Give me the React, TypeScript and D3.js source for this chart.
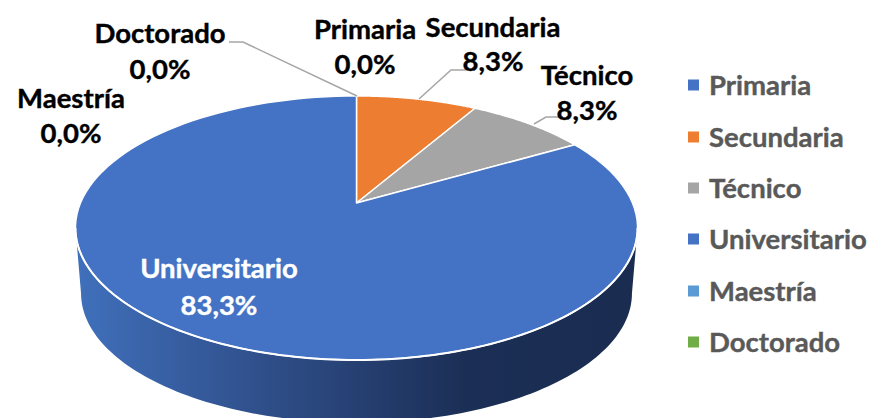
import React from "react";
import * as d3 from "d3";

const categories = ["Primaria", "Secundaria", "Técnico", "Universitario", "Maestría", "Doctorado"];
const values = [0, 8.33, 8.33, 83.34, 0, 0];
const valueLabels = ["0,0%", "8,3%", "8,3%", "83,3%", "0,0%", "0,0%"];
const colors = ["#4472C4", "#ED7D31", "#A5A5A5", "#4472C4", "#5B9BD5", "#70AD47"];
const labelCenters = [
  [365, 28, 63], [493, 26, 60], [587, 74, 109], [219, 267, 304], [71, 97, 132], [160, 32, 68],
];
const leaders = [
  [[229, 42], [243, 42], [357, 96]],
  [[466, 70], [451, 70], [419, 99]],
  [[559, 117], [546, 117], [534, 124]],
];
const legendYs = [84, 136, 187, 238, 290, 341];

const W = 873, H = 418;
const FONT = "Lato, sans-serif";
const apexX = 356.5, apexY = 203, Rx = 276, Ry = 127.3, K = 0.189;
const DEPTH = 66, BOTTOM_SCALE = 0.98;

const project = (theta: number, r = 1, dy = 0, s = 1): [number, number] => {
  const u = r * Math.sin(theta), v = r * Math.cos(theta), w = 1 + K * v;
  return [apexX + (s * Rx * u) / w, apexY + dy - (s * Ry * v) / w];
};
const line = d3.line();
const sweep = (a0: number, a1: number, n: number) => d3.range(n + 1).map(i => a0 + ((a1 - a0) * i) / n);

export default function App() {
  const arcs = d3.pie<number>().sort(null)(values);
  // Theta of the ellipse's left/right extremes under the perspective map
  const tR = Math.acos(-K), tL = 2 * Math.PI - tR;
  const frontTop = sweep(tR, tL, 120).map(t => project(t));
  const frontBottom = sweep(tL, tR, 120).map(t => project(t, 1, DEPTH, BOTTOM_SCALE));
  const wall = line([...frontTop, ...frontBottom]) + "Z";
  const rim = line(frontTop) as string;

  return (
    <svg width={W} height={H} viewBox={`0 0 ${W} ${H}`}
      style={{ position: "absolute", left: 0, top: 0, background: "#fff" }}>
      <defs>
        <linearGradient id="wall" gradientUnits="userSpaceOnUse" x1={76} x2={637} y1={0} y2={0}>
          <stop offset="0" stopColor="#4070BC" />
          <stop offset="0.3" stopColor="#31528F" />
          <stop offset="0.7" stopColor="#1B2E55" />
          <stop offset="1" stopColor="#1A2C50" />
        </linearGradient>
      </defs>
      <path d={wall} fill="url(#wall)" />
      {arcs.filter(a => a.value > 0).map(a => {
        const pts = sweep(a.startAngle, a.endAngle, 120).map(t => project(t));
        return (
          <path key={a.index} d={line([project(0, 0), ...pts]) + "Z"}
            fill={colors[a.index]} stroke="#fff" strokeWidth={1.5} strokeLinejoin="round" />
        );
      })}
      <path d={rim} fill="none" stroke="#fff" strokeWidth={2} />
      {leaders.map((l, i) => (
        <path key={i} d={line(l as [number, number][]) as string} fill="none" stroke="#A6A6A6" strokeWidth={1.5} />
      ))}
      {categories.map((c, i) => {
        const [x, y1, y2] = labelCenters[i];
        const fill = c === "Universitario" ? "#fff" : "#000";
        return (
          <g key={c} fontFamily={FONT} fontWeight={700} fontSize={27.5} fill={fill} stroke={fill} strokeWidth={0.4} textAnchor="middle" dominantBaseline="central">
            <text x={x} y={y1}>{c}</text>
            <text x={x} y={y2}>{valueLabels[i]}</text>
          </g>
        );
      })}
      {categories.map((c, i) => (
        <g key={c}>
          <rect x={688} y={legendYs[i] - 4.5} width={11} height={11} fill={colors[i]} />
          <text x={709} y={legendYs[i]} fontFamily={FONT} fontWeight={700} fontSize={27.5} fill="#595959" stroke="#595959" strokeWidth={0.4} dominantBaseline="central">{c}</text>
        </g>
      ))}
    </svg>
  );
}
